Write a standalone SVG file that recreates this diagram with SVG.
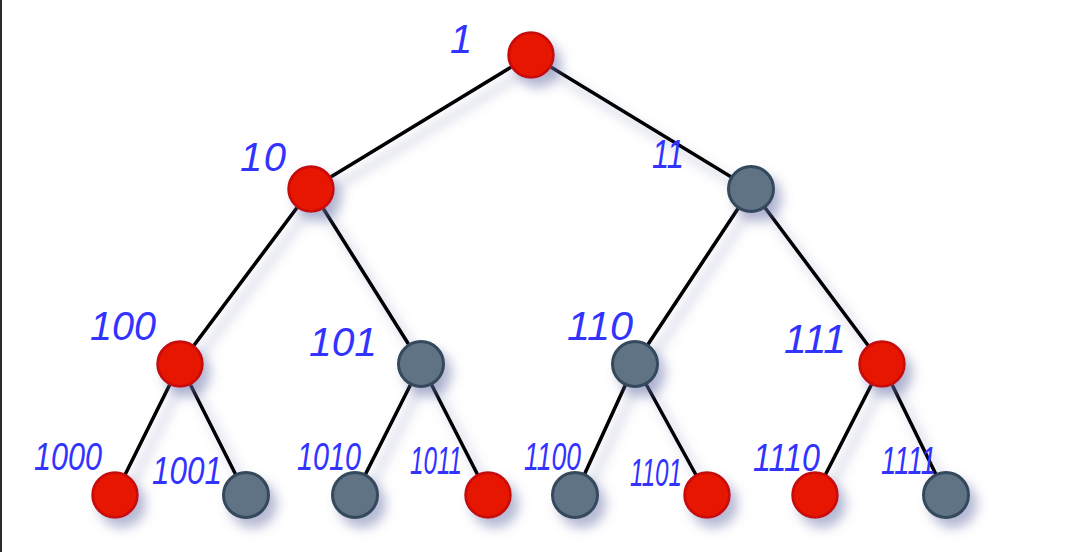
<svg xmlns="http://www.w3.org/2000/svg" width="1072" height="552" viewBox="0 0 1072 552">
<defs>
<filter id="sh" x="-60%" y="-60%" width="220%" height="220%">
<feGaussianBlur in="SourceAlpha" stdDeviation="6" result="b"/>
<feOffset in="b" dx="7" dy="9" result="o"/>
<feFlood flood-color="#6a72a8" flood-opacity="0.5"/>
<feComposite in2="o" operator="in" result="s"/>
<feMerge><feMergeNode in="s"/><feMergeNode in="SourceGraphic"/></feMerge>
</filter>
</defs>
<style>
.red{fill:#e61200;stroke:#c40808;stroke-width:2.5}
.gray{fill:#617385;stroke:#34485c;stroke-width:3}
.edge{stroke:#000;stroke-width:3.6;fill:none;stroke-linecap:round}
.lbl{font-family:"Liberation Sans",Arial,sans-serif;font-style:italic;font-size:40px;fill:#3333ff}
.lbs{font-family:"Liberation Sans",Arial,sans-serif;font-style:italic;font-size:38px;fill:#3333ff}
</style>
<rect x="0" y="0" width="1072" height="552" fill="#fff"/>
<line x1="1" y1="0" x2="1" y2="552" stroke="#2a2a2a" stroke-width="2"/>
<g id="connectors" filter="url(#sh)">
<line class="edge" x1="531" y1="55" x2="311" y2="189"/>
<line class="edge" x1="531" y1="55" x2="751" y2="189"/>
<line class="edge" x1="311" y1="189" x2="180" y2="364"/>
<line class="edge" x1="311" y1="189" x2="421" y2="364"/>
<line class="edge" x1="751" y1="189" x2="635" y2="364"/>
<line class="edge" x1="751" y1="189" x2="882" y2="364"/>
<line class="edge" x1="180" y1="364" x2="115" y2="495"/>
<line class="edge" x1="180" y1="364" x2="246" y2="495"/>
<line class="edge" x1="421" y1="364" x2="355" y2="495"/>
<line class="edge" x1="421" y1="364" x2="488" y2="495"/>
<line class="edge" x1="635" y1="364" x2="575" y2="495"/>
<line class="edge" x1="635" y1="364" x2="707" y2="495"/>
<line class="edge" x1="882" y1="364" x2="815" y2="495"/>
<line class="edge" x1="882" y1="364" x2="946" y2="495"/>
</g>
<g id="n1"><circle class="red" cx="531" cy="55" r="22.5" filter="url(#sh)"/><text class="lbl" x="450" y="53">1</text></g>
<g id="n10"><circle class="red" cx="311" cy="189" r="22.5" filter="url(#sh)"/><text class="lbl" x="240" y="171" textLength="46" lengthAdjust="spacing">10</text></g>
<g id="n11"><circle class="gray" cx="751" cy="189" r="22.5" filter="url(#sh)"/><text class="lbl" x="652" y="168" font-size="32" textLength="32" lengthAdjust="spacingAndGlyphs">11</text></g>
<g id="n100"><circle class="red" cx="180" cy="364" r="22.5" filter="url(#sh)"/><text class="lbl" x="90" y="340" textLength="66" lengthAdjust="spacingAndGlyphs">100</text></g>
<g id="n101"><circle class="gray" cx="421" cy="364" r="22.5" filter="url(#sh)"/><text class="lbl" x="309" y="356" textLength="68" lengthAdjust="spacingAndGlyphs">101</text></g>
<g id="n110"><circle class="gray" cx="635" cy="364" r="22.5" filter="url(#sh)"/><text class="lbl" x="567" y="340" textLength="66" lengthAdjust="spacingAndGlyphs">110</text></g>
<g id="n111"><circle class="red" cx="882" cy="364" r="22.5" filter="url(#sh)"/><text class="lbl" x="784" y="353" textLength="62" lengthAdjust="spacingAndGlyphs">111</text></g>
<g id="n1000"><circle class="red" cx="115" cy="495" r="22.5" filter="url(#sh)"/><text class="lbs" x="34" y="470" textLength="68" lengthAdjust="spacingAndGlyphs">1000</text></g>
<g id="n1001"><circle class="gray" cx="246" cy="495" r="22.5" filter="url(#sh)"/><text class="lbs" x="152" y="484" textLength="70" lengthAdjust="spacingAndGlyphs">1001</text></g>
<g id="n1010"><circle class="gray" cx="355" cy="495" r="22.5" filter="url(#sh)"/><text class="lbs" x="297" y="470" textLength="64" lengthAdjust="spacingAndGlyphs">1010</text></g>
<g id="n1011"><circle class="red" cx="488" cy="495" r="22.5" filter="url(#sh)"/><text class="lbs" x="410" y="474" textLength="52" lengthAdjust="spacingAndGlyphs">1011</text></g>
<g id="n1100"><circle class="gray" cx="575" cy="495" r="22.5" filter="url(#sh)"/><text class="lbs" x="524" y="470" textLength="57" lengthAdjust="spacingAndGlyphs">1100</text></g>
<g id="n1101"><circle class="red" cx="707" cy="495" r="22.5" filter="url(#sh)"/><text class="lbs" x="630" y="486" textLength="52" lengthAdjust="spacingAndGlyphs">1101</text></g>
<g id="n1110"><circle class="red" cx="815" cy="495" r="22.5" filter="url(#sh)"/><text class="lbs" x="753" y="471" textLength="67" lengthAdjust="spacingAndGlyphs">1110</text></g>
<g id="n1111"><circle class="gray" cx="946" cy="495" r="22.5" filter="url(#sh)"/><text class="lbs" x="881" y="474" textLength="55" lengthAdjust="spacingAndGlyphs">1111</text></g>
</svg>
